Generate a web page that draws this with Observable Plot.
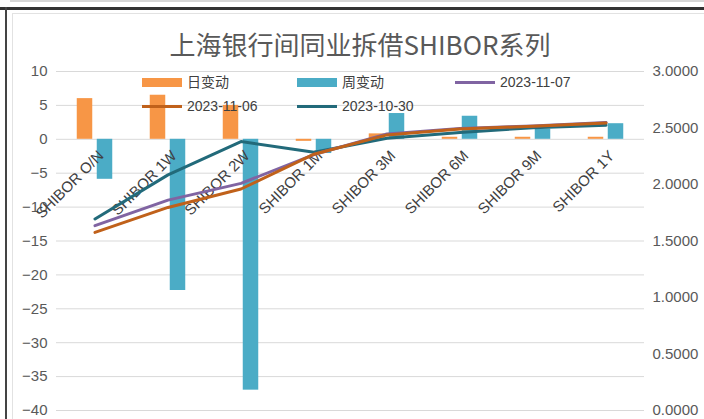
<!DOCTYPE html>
<html>
<head>
<meta charset="utf-8">
<script src="https://cdn.jsdelivr.net/npm/d3@7"></script>
<script src="https://cdn.jsdelivr.net/npm/@observablehq/plot@0.6"></script>
<style>
  html, body { margin: 0; padding: 0; background: #fff; }
  #wrap { position: relative; width: 704px; height: 419px; overflow: hidden; background: #fff;
          font-family: "Liberation Sans", "Noto Sans CJK SC", sans-serif; }
  .abs { position: absolute; }
  #title { position: absolute; left: 0; width: 720px; top: 27px; text-align: center;
           font-family: "Noto Sans CJK SC", sans-serif; font-size: 26px; color: #595959; line-height: 34px; }
  #chart { position: absolute; left: 0; top: 58px; }
  .lg { position: absolute; font-size: 14px; color: #404040; line-height: 16px; white-space: nowrap; }
</style>
</head>
<body>
<div id="wrap">
  <div class="abs" style="left:10px;top:0;width:694px;height:2px;background:#d6d6d6"></div>
  <div class="abs" style="left:0;top:7px;width:704px;height:3px;background:#333"></div>
  <div class="abs" style="left:5px;top:7px;width:2px;height:412px;background:#444"></div>
  <div class="abs" style="left:12px;top:13px;width:692px;height:1px;background:#e2e2e2"></div>
  <div class="abs" style="left:12px;top:13px;width:1px;height:406px;background:#e2e2e2"></div>
  <div id="title">上海银行间同业拆借SHIBOR系列</div>
  <div id="chart"></div>
  <div id="legend"></div>
</div>
<script>
// ---- data ----
const categories = ["SHIBOR O/N", "SHIBOR 1W", "SHIBOR 2W", "SHIBOR 1M", "SHIBOR 3M", "SHIBOR 6M", "SHIBOR 9M", "SHIBOR 1Y"];
const dailyChange = [6.0, 6.5, 5.0, -0.3, 0.8, 0.3, 0.3, 0.3];          // 日变动 (bp, left axis)
const weeklyChange = [-5.9, -22.3, -37.0, -2.1, 3.8, 3.4, 1.5, 2.3];    // 周变动 (bp, left axis)
const rate20231107 = [1.636, 1.862, 2.010, 2.265, 2.447, 2.495, 2.518, 2.548];  // right axis
const rate20231106 = [1.576, 1.797, 1.960, 2.268, 2.439, 2.492, 2.515, 2.545];
const rate20231030 = [1.695, 2.085, 2.380, 2.286, 2.409, 2.461, 2.503, 2.525];
const leftTicks = [-40, -35, -30, -25, -20, -15, -10, -5, 0, 5, 10];
const rightTicks = [0, 0.5, 1.0, 1.5, 2.0, 2.5, 3.0];
const seriesNames = ["日变动", "周变动", "2023-11-07", "2023-11-06", "2023-10-30"];

// right axis [0,3] mapped onto left axis [-40,10]
const toLeft = v => -40 + v * 50 / 3;
const fromLeft = d => (d + 40) * 3 / 50;

const colBarDay = "#F79646", colBarWeek = "#4BACC6";
const col1107 = "#8064A2", col1106 = "#C0611A", col1030 = "#226A7A";

const bandW = (644 - 56) / categories.length;
const half = bandW / 2;

const lineOf = (arr, color) => Plot.lineY(categories, {
  x: d => d, y: (d, i) => toLeft(arr[i]), stroke: color, strokeWidth: 3, curve: "linear"
});

const chart = Plot.plot({
  width: 704, height: 361,
  marginTop: 13, marginBottom: 9, marginLeft: 56, marginRight: 60,
  x: { domain: categories, padding: 0, axis: null },
  y: { domain: [-40, 10], axis: null },
  style: { fontFamily: "Liberation Sans, sans-serif", background: "transparent" },
  marks: [
    Plot.gridY({ ticks: leftTicks, stroke: "#d9d9d9", strokeOpacity: 1, strokeWidth: 1 }),
    Plot.axisY({ ticks: leftTicks, anchor: "left", tickSize: 0, tickPadding: 9, fontSize: 15, fill: "#595959", label: null }),
    Plot.axisY({ ticks: rightTicks.map(toLeft), anchor: "right", tickSize: 0, tickPadding: 8, fontSize: 15, fill: "#595959",
                 tickFormat: d => fromLeft(d).toFixed(4), label: null }),
    Plot.barY(categories, { x: d => d, y: (d, i) => dailyChange[i], fill: colBarDay,
                            insetLeft: half - 18, insetRight: half + 2 }),
    Plot.barY(categories, { x: d => d, y: (d, i) => weeklyChange[i], fill: colBarWeek,
                            insetLeft: half + 2, insetRight: half - 18 }),
    Plot.text(categories, { x: d => d, y: () => 0, text: d => d, rotate: -45, textAnchor: "end",
                            dx: 6, dy: 14, fontSize: 15, fill: "#404040" }),
    lineOf(rate20231030, col1030),
    lineOf(rate20231107, col1107),
    lineOf(rate20231106, col1106)
  ]
});
document.getElementById("chart").appendChild(chart);

// legend (HTML, overlaid in the plot area)
const legendItems = [
  { name: seriesNames[0], color: colBarDay, type: "rect", x: 142, y: 82 },
  { name: seriesNames[1], color: colBarWeek, type: "rect", x: 297, y: 82 },
  { name: seriesNames[2], color: col1107, type: "line", x: 455, y: 82 },
  { name: seriesNames[3], color: col1106, type: "line", x: 142, y: 106 },
  { name: seriesNames[4], color: col1030, type: "line", x: 297, y: 106 }
];
const lg = document.getElementById("legend");
for (const it of legendItems) {
  const sw = document.createElement("div");
  sw.className = "abs";
  const h = it.type === "rect" ? 9 : 3;
  sw.style.cssText = `left:${it.x}px;top:${it.y - h / 2}px;width:40px;height:${h}px;background:${it.color}`;
  lg.appendChild(sw);
  const t = document.createElement("div");
  t.className = "lg";
  t.style.left = (it.x + 45) + "px";
  t.style.top = (it.y - 8) + "px";
  t.textContent = it.name;
  lg.appendChild(t);
}
</script>
</body>
</html>
